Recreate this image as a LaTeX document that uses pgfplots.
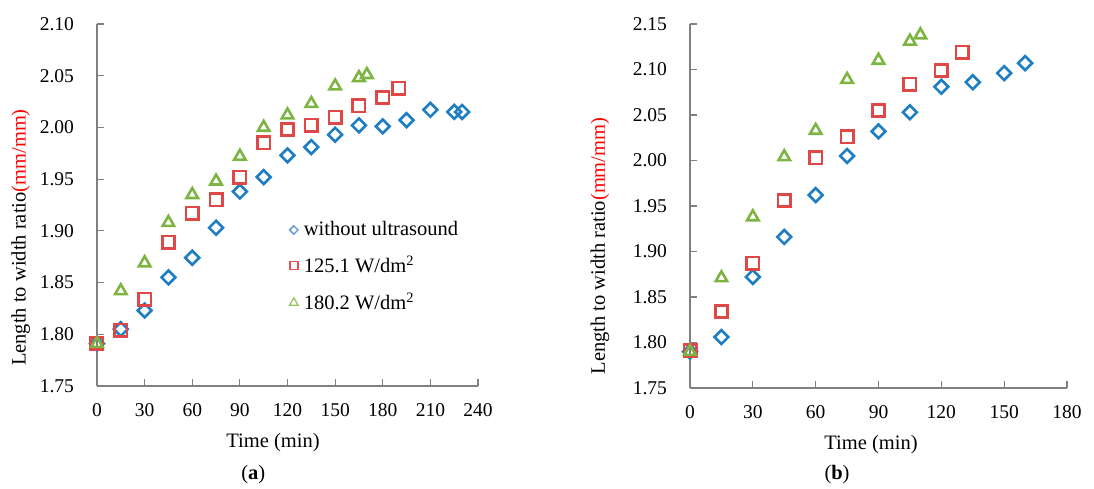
\documentclass[border=0pt]{standalone}
\usepackage{pgfplots}
\pgfplotsset{compat=1.18}
\usepackage{fontspec}
\setmainfont{Liberation Serif}
\definecolor{cblue}{RGB}{30,126,196}
\definecolor{cred}{RGB}{224,72,72}
\definecolor{cgreen}{RGB}{126,180,66}
\definecolor{cbluel}{RGB}{90,150,210}
\definecolor{credl}{RGB}{235,80,80}
\definecolor{cgreenl}{RGB}{150,195,100}
\definecolor{axgray}{RGB}{128,128,128}
\pgfplotsset{
  myax/.style={
    scale only axis,
    clip=false,
    axis x line=bottom, axis y line=left,
    axis line style={axgray, line width=1.5pt, -},
    every tick/.style={axgray, line width=1.2pt},
    tick align=inside,
    major tick length=7pt,
    font=\fontsize{20.5}{24}\selectfont,
    tick label style={font=\fontsize{19.5}{22}\selectfont},
    /pgf/number format/assume math mode=true,
    ymin=1.75,
    yticklabel style={/pgf/number format/.cd, fixed, fixed zerofill, precision=2, /tikz/.cd, xshift=-16pt},
    xticklabel style={yshift=-10pt},
    xlabel={Time (min)},
    xlabel style={yshift=-3pt},
    ylabel={Length to width ratio\textcolor{red}{(mm/mm)}},
  },
  sblue/.style={only marks, mark=square, mark size=4.9pt, color=cblue, mark options={rotate=45, line width=2.6pt}},
  sred/.style={only marks, mark=square, mark size=6.2pt, color=cred, mark options={line width=2.6pt}},
  sgreen/.style={only marks, mark=triangle, mark size=6.6pt, color=cgreen, mark options={line width=2.6pt}},
}
\begin{document}
\fontsize{20.5}{24}\selectfont
\begin{tikzpicture}
\useasboundingbox (0,0) rectangle (1094pt,488pt);
\begin{axis}[myax,
  at={(97pt,102pt)}, anchor=south west,
  width=381pt, height=362pt,
  xmin=0, xmax=240, ymax=2.10,
  xtick={0,30,...,240},
  ytick={1.75,1.80,...,2.10},
  xlabel style={at={(ticklabel cs:0.462)}},
  ylabel style={at={(axis description cs:-0.2,0.41)}, anchor=center},
  legend style={at={(rel axis cs:0.503,0.461)}, anchor=north west, draw=none, fill=none,
    font=\fontsize{20.5}{24}\selectfont, row sep=13pt, inner sep=0pt,
    legend cell align=left,
    /tikz/every odd column/.append style={column sep=3pt}},
]
\addlegendimage{legend image code/.code={\draw[cbluel, line width=1.3pt] (0.15cm,4.2pt) -- (0.15cm+4.2pt,0pt) -- (0.15cm,-4.2pt) -- (0.15cm-4.2pt,0pt) -- cycle;}}
\addlegendimage{legend image code/.code={\draw[credl, line width=1.4pt] (0.15cm-4pt,-4pt) rectangle (0.15cm+4pt,4pt);}}
\addlegendimage{legend image code/.code={\draw[cgreenl, line width=1.3pt] (0.15cm,5pt) -- (0.15cm+4.33pt,-2.5pt) -- (0.15cm-4.33pt,-2.5pt) -- cycle;}}
\legend{without ultrasound, 125.1 W/dm\textsuperscript{2}, 180.2 W/dm\textsuperscript{2}}
\addplot[sblue, forget plot] coordinates {(0,1.791)(15,1.805)(30,1.823)(45,1.855)(60,1.874)(75,1.903)(90,1.938)(105,1.952)(120,1.973)(135,1.981)(150,1.993)(165,2.002)(180,2.001)(195,2.007)(210,2.017)(225,2.015)(230,2.015)};
\addplot[sred, forget plot] coordinates {(0,1.791)(15,1.804)(30,1.834)(45,1.889)(60,1.917)(75,1.930)(90,1.952)(105,1.985)(120,1.998)(135,2.002)(150,2.010)(165,2.021)(180,2.029)(190,2.038)};
\addplot[sgreen, forget plot] coordinates {(0,1.791)(15,1.842)(30,1.869)(45,1.908)(60,1.935)(75,1.948)(90,1.972)(105,2.000)(120,2.012)(135,2.023)(150,2.040)(165,2.048)(170,2.051)};
\node at (axis description cs:0.41,-0.246) {(\textbf{a})};
\end{axis}
\begin{axis}[myax,
  at={(690pt,100pt)}, anchor=south west,
  width=377pt, height=364pt,
  xmin=0, xmax=180, ymax=2.15,
  xtick={0,30,...,180},
  ytick={1.75,1.80,...,2.15},
  xlabel style={at={(ticklabel cs:0.48)}},
  ylabel style={at={(axis description cs:-0.239,0.39)}, anchor=center},
]
\addplot[sblue] coordinates {(0,1.790)(15,1.806)(30,1.872)(45,1.916)(60,1.962)(75,2.005)(90,2.032)(105,2.053)(120,2.081)(135,2.086)(150,2.096)(160,2.107)};
\addplot[sred] coordinates {(0,1.791)(15,1.834)(30,1.887)(45,1.956)(60,2.003)(75,2.026)(90,2.055)(105,2.084)(120,2.099)(130,2.119)};
\addplot[sgreen] coordinates {(0,1.790)(15,1.871)(30,1.938)(45,2.004)(60,2.033)(75,2.089)(90,2.110)(105,2.131)(110,2.138)};
\node at (axis description cs:0.39,-0.239) {(\textbf{b})};
\end{axis}
\end{tikzpicture}
\end{document}
